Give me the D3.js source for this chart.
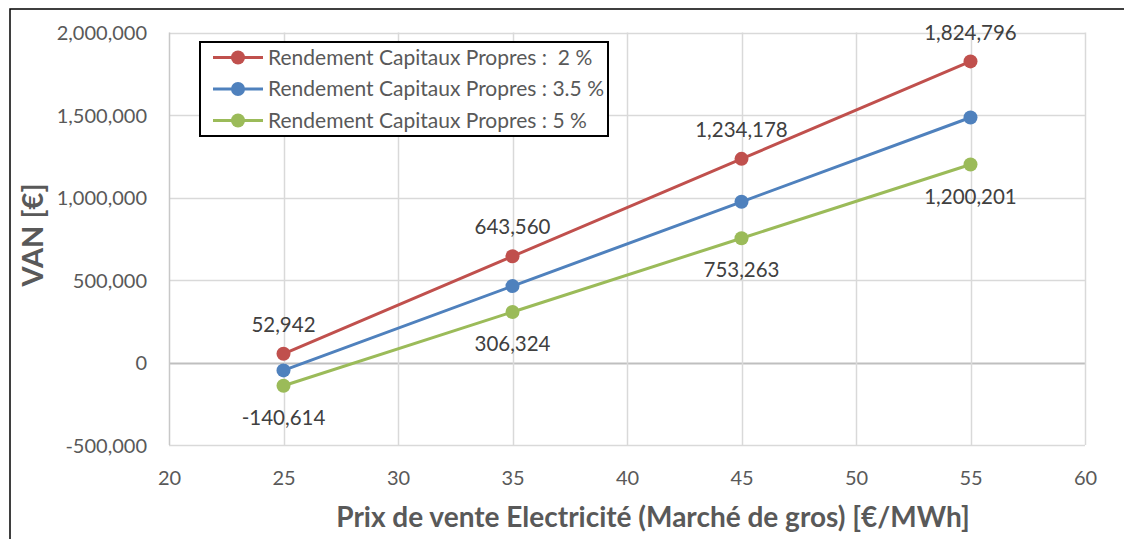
<!DOCTYPE html>
<html>
<head>
<meta charset="utf-8">
<script src="https://cdn.jsdelivr.net/npm/d3@7"></script>
<style>
  body { margin: 0; background: #fff; }
  svg { display: block; font-family: Lato, "Open Sans", sans-serif; }
</style>
</head>
<body>
<div id="chart"></div>
<script>
(function()
{
    // data
    const prices = [25, 35, 45, 55];
    const seriesNames = [
        "Rendement Capitaux Propres :  2 %",
        "Rendement Capitaux Propres : 3.5 %",
        "Rendement Capitaux Propres : 5 %"
    ];
    const van2 = [52942, 643560, 1234178, 1824796];
    const van35 = [-48000, 463000, 974000, 1485000];
    const van5 = [-140614, 306324, 753263, 1200201];
    const seriesColors = ["#C0504D", "#4F81BD", "#9BBB59"];
    const xTicks = [20, 25, 30, 35, 40, 45, 50, 55, 60];
    const yTicks = [-500000, 0, 500000, 1000000, 1500000, 2000000];

    const W = 1124, H = 539;
    const left = 169, right = 1085, top = 32.5, bottom = 445;
    const TEXT = "#595959";

    // plain hyphen for negatives, like the original
    const fmt = d3.formatLocale({
        decimal: ".", thousands: ",", grouping: [3], currency: ["", ""], minus: "-"
    }).format(",");

    const svg = d3.select("#chart").append("svg")
        .attr("width", W)
        .attr("height", H);

    // outer chart border (only left and top are inside the picture)
    svg.append("rect")
        .attr("x", 10).attr("y", 9)
        .attr("width", W + 20).attr("height", H + 20)
        .attr("fill", "#fff")
        .attr("stroke", "#000")
        .attr("stroke-width", 1.5);

    const x = d3.scaleLinear().domain([20, 60]).range([left, right]);
    const y = d3.scaleLinear().domain([-500000, 2000000]).range([bottom, top]);

    // grid
    const grid = svg.append("g");
    grid.selectAll("line.h").data(yTicks).enter().append("line")
        .attr("x1", left).attr("x2", right)
        .attr("y1", d => Math.round(y(d)) + 0.5).attr("y2", d => Math.round(y(d)) + 0.5)
        .attr("stroke", d => d === 0 ? "#bfbfbf" : "#d9d9d9")
        .attr("stroke-width", d => d === 0 ? 2 : 1.5);
    grid.selectAll("line.v").data(xTicks).enter().append("line")
        .attr("y1", top).attr("y2", bottom)
        .attr("x1", d => Math.round(x(d)) + 0.5).attr("x2", d => Math.round(x(d)) + 0.5)
        .attr("stroke", d => d === 20 ? "#c8c8c8" : "#d9d9d9")
        .attr("stroke-width", 1.5);

    // axes (labels only, lines drawn as grid)
    const yAxis = svg.append("g")
        .attr("transform", "translate(" + (left - 22) + ",0)")
        .call(d3.axisLeft(y).tickValues(yTicks).tickSize(0).tickFormat(fmt));
    yAxis.select(".domain").remove();
    yAxis.selectAll("text")
        .attr("fill", TEXT).attr("font-size", 20)
        .attr("font-family", "Lato, sans-serif")
        .attr("x", 0).attr("dy", "0.35em");

    const xAxis = svg.append("g")
        .attr("transform", "translate(0," + (bottom + 26) + ")")
        .call(d3.axisBottom(x).tickValues(xTicks).tickSize(0));
    xAxis.select(".domain").remove();
    xAxis.selectAll("text")
        .attr("fill", TEXT).attr("font-size", 20)
        .attr("font-family", "Lato, sans-serif")
        .attr("y", 0).attr("dy", "0.71em");

    // axis titles
    svg.append("text")
        .attr("transform", "translate(43,235) rotate(-90)")
        .attr("text-anchor", "middle")
        .attr("font-size", 29).attr("font-weight", "bold")
        .attr("fill", TEXT)
        .text("VAN [€]");

    svg.append("text")
        .attr("x", 653).attr("y", 527)
        .attr("text-anchor", "middle")
        .attr("font-size", 28).attr("font-weight", "bold")
        .attr("fill", TEXT)
        .text("Prix de vente Electricité (Marché de gros) [€/MWh]");

    // series
    const allSeries = [van2, van35, van5];
    const line = d3.line()
        .x((d, i) => x(prices[i]))
        .y(d => y(d));

    allSeries.forEach(function(vals, s) {
        const g = svg.append("g");
        g.append("path")
            .attr("d", line(vals))
            .attr("fill", "none")
            .attr("stroke", seriesColors[s])
            .attr("stroke-width", 3);
        g.selectAll("circle").data(vals).enter().append("circle")
            .attr("cx", (d, i) => x(prices[i]))
            .attr("cy", d => y(d))
            .attr("r", 7)
            .attr("fill", seriesColors[s]);
    });

    // data labels: red above, green below
    function addLabels(vals, offset) {
        svg.append("g").selectAll("text").data(vals).enter().append("text")
            .attr("x", (d, i) => x(prices[i]))
            .attr("y", d => y(d) + offset)
            .attr("dy", "0.35em")
            .attr("text-anchor", "middle")
            .attr("font-size", 20.5)
            .attr("fill", "#404040")
            .text(d => fmt(d));
    }
    addLabels(van2, -29);
    addLabels(van5, 32);

    // legend
    const lg = svg.append("g");
    lg.append("rect")
        .attr("x", 200).attr("y", 42)
        .attr("width", 408).attr("height", 94)
        .attr("fill", "#fff")
        .attr("stroke", "#000")
        .attr("stroke-width", 2);
    seriesNames.forEach(function(name, i) {
        const cy = 57.5 + i * 31.5;
        lg.append("line")
            .attr("x1", 213).attr("x2", 263)
            .attr("y1", cy).attr("y2", cy)
            .attr("stroke", seriesColors[i])
            .attr("stroke-width", 3);
        lg.append("circle")
            .attr("cx", 238).attr("cy", cy).attr("r", 7)
            .attr("fill", seriesColors[i]);
        lg.append("text")
            .attr("x", 268).attr("y", cy)
            .attr("dy", "0.35em")
            .attr("font-size", 21)
            .attr("fill", TEXT)
            .attr("xml:space", "preserve")
            .style("white-space", "pre")
            .text(name);
    });
})();
</script>
</body>
</html>
